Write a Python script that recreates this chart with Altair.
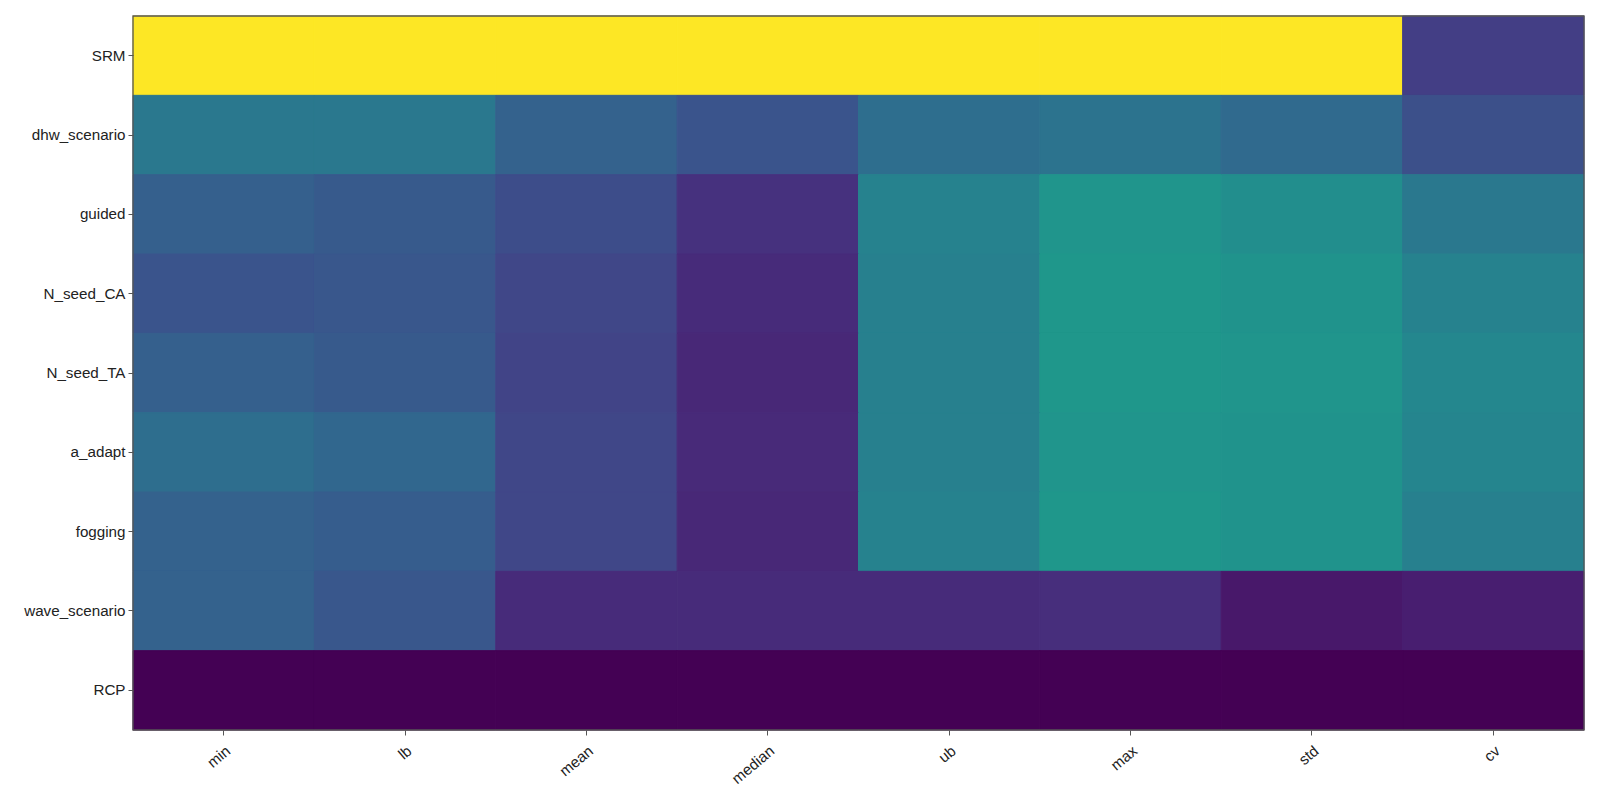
import altair as alt
import pandas as pd

columns = ["min", "lb", "mean", "median", "ub", "max", "std", "cv"]
rows = ["SRM", "dhw_scenario", "guided", "N_seed_CA", "N_seed_TA",
        "a_adapt", "fogging", "wave_scenario", "RCP"]

SRM = [1.0, 1.0, 1.0, 1.0, 1.0, 1.0, 1.0, 0.18]
dhw_scenario = [0.40, 0.40, 0.31, 0.26, 0.36, 0.38, 0.34, 0.24]
guided = [0.30, 0.28, 0.23, 0.14, 0.44, 0.52, 0.49, 0.40]
N_seed_CA = [0.26, 0.27, 0.21, 0.12, 0.43, 0.53, 0.51, 0.44]
N_seed_TA = [0.30, 0.28, 0.20, 0.11, 0.43, 0.53, 0.52, 0.46]
a_adapt = [0.36, 0.33, 0.21, 0.115, 0.43, 0.52, 0.51, 0.45]
fogging = [0.31, 0.29, 0.21, 0.11, 0.44, 0.53, 0.51, 0.43]
wave_scenario = [0.31, 0.27, 0.12, 0.12, 0.12, 0.13, 0.06, 0.08]
RCP = [0.0, 0.0, 0.0, 0.0, 0.0, 0.0, 0.0, 0.0]

series = [SRM, dhw_scenario, guided, N_seed_CA, N_seed_TA,
          a_adapt, fogging, wave_scenario, RCP]

records = []
for r, vals in zip(rows, series):
    for c, v in zip(columns, vals):
        records.append({"row": r, "col": c, "value": v})
df = pd.DataFrame(records)

FONT = "Liberation Sans"
cscale = alt.Scale(scheme="viridis", domain=[0, 1])

heat = alt.Chart(df).mark_rect(strokeWidth=1).encode(
    x=alt.X("col:N", sort=columns, title=None,
            scale=alt.Scale(paddingInner=0, paddingOuter=0),
            axis=alt.Axis(labelAngle=-40, labelAlign="right", labelBaseline="top",
                          labelFont=FONT, labelFontSize=15.2, labelColor="#222222",
                          tickColor="#555555", tickSize=5, domain=False, grid=False,
                          labelPadding=8)),
    y=alt.Y("row:N", sort=rows, title=None,
            scale=alt.Scale(paddingInner=0, paddingOuter=0),
            axis=alt.Axis(labelFont=FONT, labelFontSize=15.2, labelColor="#222222",
                          tickColor="#555555", tickSize=5, domain=False, grid=False,
                          labelPadding=3)),
    color=alt.Color("value:Q", scale=cscale, legend=None),
    stroke=alt.Stroke("value:Q", scale=cscale, legend=None),
)

frame = alt.Chart(pd.DataFrame({"f": [0]})).mark_rect(
    filled=False, stroke="#555555", strokeWidth=1.3
).encode(
    x=alt.value(0), x2=alt.value("width"),
    y=alt.value(0), y2=alt.value("height"),
)

chart = alt.layer(heat, frame).properties(
    width=1451, height=714,
    autosize=alt.AutoSizeParams(type="none"),
    padding={"left": 125, "top": 8, "right": 8, "bottom": 70},
).configure_view(
    stroke=None
)

chart.save("out.html", embed_options={"renderer": "svg", "actions": False})
